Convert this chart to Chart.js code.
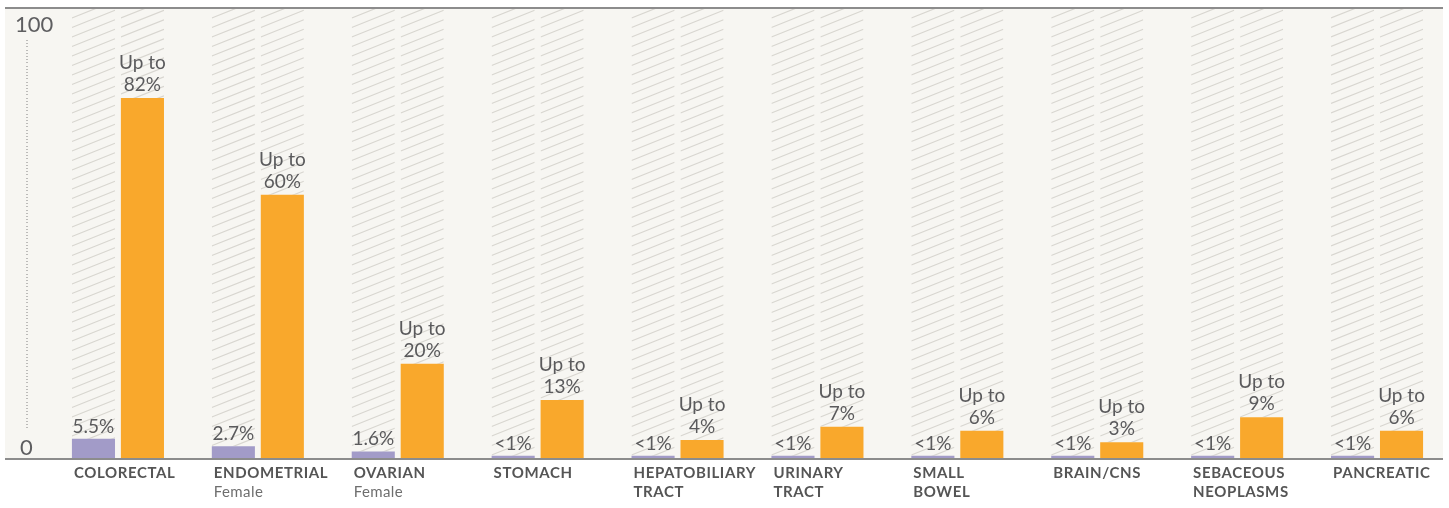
<!DOCTYPE html>
<html>
<head>
<meta charset="utf-8">
<script src="https://cdn.jsdelivr.net/npm/chart.js@4"></script>
<style>
  html, body { margin: 0; padding: 0; background: #ffffff; }
  #wrap { width: 1449px; height: 508px; }
</style>
</head>
<body>
<div id="wrap"><canvas id="riskChart" width="1449" height="508"></canvas></div>
<script>
// Categories and their second lines
const categories = [
    ['COLORECTAL'], ['ENDOMETRIAL'], ['OVARIAN'], ['STOMACH'], ['HEPATOBILIARY', 'TRACT'],
    ['URINARY', 'TRACT'], ['SMALL', 'BOWEL'], ['BRAIN/CNS'], ['SEBACEOUS', 'NEOPLASMS'], ['PANCREATIC']
];
const subLabels = ['', 'Female', 'Female', '', '', '', '', '', '', ''];

// General population risk (purple) and Lynch syndrome risk (orange)
const generalRisk = [4.4, 2.7, 1.5, 0.5, 0.5, 0.5, 0.5, 0.5, 0.5, 0.5];
const lynchRisk = [82, 60, 21.5, 13.2, 4.1, 7.1, 6.2, 3.6, 9.3, 6.2];

// Text shown above the bars
const generalText = ['5.5%', '2.7%', '1.6%', '<1%', '<1%', '<1%', '<1%', '<1%', '<1%', '<1%'];
const lynchText = ['82%', '60%', '20%', '13%', '4%', '7%', '6%', '3%', '9%', '6%'];

// Y tick labels
const yTicks = [0, 100];

const PURPLE = '#a29bc8';
const ORANGE = '#f9a82c';
const TEXT = '#5a5a5c';
const FONT = 'Lato, "Open Sans", sans-serif';

// Draws panel background, frame lines and hatched columns above each bar
const backdropPlugin = {
    id: 'backdrop',
    beforeDraw(chart) {
        const ctx = chart.ctx;
        const area = chart.chartArea;
        ctx.save();
        ctx.fillStyle = '#ffffff';
        ctx.fillRect(0, 0, chart.width, chart.height);
        ctx.fillStyle = '#f7f6f2';
        ctx.fillRect(5, area.top, 1438, area.bottom - area.top);
        ctx.restore();
    },
    beforeDatasetsDraw(chart) {
        const ctx = chart.ctx;
        const top = chart.chartArea.top;
        ctx.save();
        ctx.strokeStyle = '#d8d6d0';
        ctx.lineWidth = 1.2;
        chart.data.datasets.forEach((ds, di) => {
            chart.getDatasetMeta(di).data.forEach(bar => {
                const left = bar.x - bar.width / 2;
                const w = bar.width;
                const h = bar.y - top;
                if (h <= 0) return;
                ctx.save();
                ctx.beginPath();
                ctx.rect(left, top, w, h);
                ctx.clip();
                const slope = 0.4;
                const step = 9.5;
                ctx.beginPath();
                for (let y0 = top - 10; y0 < bar.y + w * slope + 10; y0 += step) {
                    ctx.moveTo(left, y0);
                    ctx.lineTo(left + w, y0 - w * slope);
                }
                ctx.stroke();
                ctx.restore();
            });
        });
        ctx.restore();
    },
    afterDraw(chart) {
        const ctx = chart.ctx;
        const area = chart.chartArea;
        const yScale = chart.scales.y;
        ctx.save();
        // top and bottom rules
        ctx.fillStyle = '#8c8c8c';
        ctx.fillRect(5, area.top - 2, 1438, 2);
        ctx.fillRect(5, area.bottom, 1438, 2);

        // y tick labels
        ctx.fillStyle = '#5e5e60';
        ctx.font = '22px ' + FONT;
        ctx.textAlign = 'left';
        ctx.textBaseline = 'alphabetic';
        ctx.fillText(String(yTicks[1]), 15, yScale.getPixelForValue(yTicks[1]) + 13);
        ctx.fillText(String(yTicks[0]), 20, yScale.getPixelForValue(yTicks[0]) - 3);

        // dotted connector between tick labels
        ctx.fillStyle = '#808080';
        for (let y = yScale.getPixelForValue(yTicks[1]) + 21; y < yScale.getPixelForValue(yTicks[0]) - 30; y += 3.2) {
            ctx.fillRect(26.5, Math.round(y), 1, 1);
        }

        // value labels
        const m0 = chart.getDatasetMeta(0).data;
        const m1 = chart.getDatasetMeta(1).data;
        ctx.textAlign = 'center';
        ctx.fillStyle = TEXT;
        ctx.font = '19px ' + FONT;
        m0.forEach((bar, i) => {
            ctx.fillText(generalText[i], bar.x, bar.y - 6);
        });
        m1.forEach((bar, i) => {
            ctx.fillText('Up to', bar.x, bar.y - 29);
            ctx.fillText(lynchText[i], bar.x, bar.y - 7);
        });

        // category labels
        ctx.textAlign = 'left';
        m0.forEach((bar, i) => {
            const x = bar.x - bar.width / 2 + 2;
            let y = area.bottom + 20;
            ctx.fillStyle = '#555555';
            ctx.font = 'bold 15px ' + FONT;
            ctx.letterSpacing = '0.6px';
            categories[i].forEach(line => {
                ctx.fillText(line, x, y);
                y += 19;
            });
            if (subLabels[i]) {
                ctx.fillStyle = '#6e6e6e';
                ctx.font = '15px ' + FONT;
                ctx.letterSpacing = '0.4px';
                ctx.fillText(subLabels[i], x, y);
            }
        });
        ctx.restore();
    }
};

const riskChart = new Chart(document.getElementById('riskChart'), {
    type: 'bar',
    data: {
        labels: categories,
        datasets: [
            { label: 'General population', data: generalRisk, backgroundColor: PURPLE, borderWidth: 0 },
            { label: 'Lynch syndrome', data: lynchRisk, backgroundColor: ORANGE, borderWidth: 0 }
        ]
    },
    options: {
        responsive: false,
        animation: false,
        devicePixelRatio: 1,
        layout: { padding: { left: 48, right: 2, top: 9, bottom: 50 } },
        datasets: {
            bar: { categoryPercentage: 0.7, barPercentage: 0.88 }
        },
        plugins: {
            legend: { display: false },
            tooltip: { enabled: false }
        },
        scales: {
            x: { display: false, grid: { display: false } },
            y: { display: false, min: 0, max: 102.3, grid: { display: false } }
        }
    },
    plugins: [backdropPlugin]
});
</script>
</body>
</html>
